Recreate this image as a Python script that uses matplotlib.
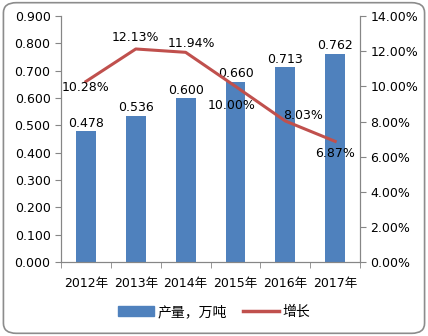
import matplotlib.pyplot as plt
from matplotlib.patches import FancyBboxPatch
from matplotlib.lines import Line2D
from matplotlib.patches import Patch
import numpy as np

plt.rcParams['font.family'] = ['DejaVu Sans', 'Noto Sans CJK SC']

years = ['2012年', '2013年', '2014年', '2015年', '2016年', '2017年']
output = [0.478, 0.536, 0.600, 0.660, 0.713, 0.762]
growth = [10.28, 12.13, 11.94, 10.00, 8.03, 6.87]

BAR = '#4F81BD'
LINE = '#C0504D'
GRID = '#868686'

fig = plt.figure(figsize=(4.28, 3.36), dpi=100)
ax = fig.add_axes([0.1425, 0.22, 0.699, 0.732])
ax2 = ax.twinx()

x = np.arange(len(years))
ax.bar(x, output, width=0.4, color=BAR, zorder=2)
for xi, v in zip(x, output):
    ax.annotate(f'{v:.3f}', (xi, v), xytext=(0, 1), textcoords='offset points',
                ha='center', va='bottom', fontsize=9)

ax2.plot(x, growth, color=LINE, lw=2.2, zorder=3)
# label offsets (points) for the growth line
offs = [(0, -4), (0, 8), (4, 6.5), (-3, -14), (13, 4), (0, -9)]
for xi, v, o in zip(x, growth, offs):
    ax2.annotate(f'{v:.2f}%', (xi, v), xytext=o, textcoords='offset points',
                 ha='center', va='center', fontsize=9)

ax.set_xlim(-0.5, 5.5)
ax.set_ylim(0, 0.9)
ax.set_yticks(np.arange(0, 0.91, 0.1))
ax.set_yticklabels([f'{t:.3f}' for t in np.arange(0, 0.91, 0.1)])
ax2.set_ylim(0, 14)
ax2.set_yticks(np.arange(0, 14.1, 2))
ax2.set_yticklabels([f'{t:.2f}%' for t in np.arange(0, 14.1, 2)])

ax.set_xticks(x)
ax.set_xticklabels(years)
ax.set_xticks(np.arange(-0.5, 6, 1), minor=True)
ax.tick_params(axis='x', which='major', length=0, pad=11, labelsize=9)
ax.tick_params(axis='x', which='minor', length=4, color=GRID)
ax.tick_params(axis='y', length=4, color=GRID, labelsize=9)
ax2.tick_params(axis='y', length=4, color=GRID, labelsize=9)

for a in (ax, ax2):
    a.spines['top'].set_visible(False)
    for s in ('left', 'right', 'bottom'):
        a.spines[s].set_color(GRID)

handles = [Patch(color=BAR, label='产量，万吨'),
           Line2D([0], [0], color=LINE, lw=2.5, label='增长')]
fig.legend(handles=handles, loc='center', bbox_to_anchor=(0.5, 0.072), ncol=2,
           frameon=False, handlelength=2.6, columnspacing=1.2,
           handletextpad=0.2, prop={'family': ['Noto Sans CJK SC'], 'size': 10})

border = FancyBboxPatch((0.008, 0.008), 0.984, 0.984,
                        boxstyle='round,pad=0,rounding_size=0.03',
                        transform=fig.transFigure, fill=False,
                        edgecolor='#8c8c8c', lw=1.2)
fig.patches.append(border)

fig.savefig('out.png', dpi=100)
